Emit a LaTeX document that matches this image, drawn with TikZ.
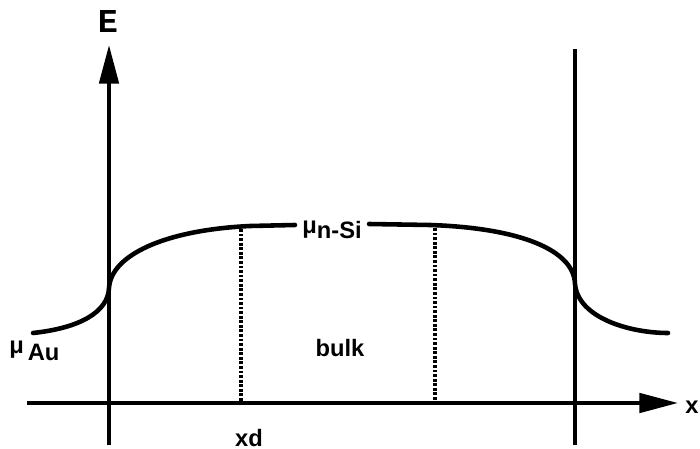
\documentclass[tikz,border=0pt]{standalone}
\usepackage{fontspec}
\setmainfont{Liberation Sans}
\newfontfamily\typefont{Liberation Mono}
\usepackage{tikz}
\usetikzlibrary{arrows.meta}
\newcommand{\lbl}{\fontsize{13.5}{16}\selectfont\bfseries}

\begin{document}
\begin{tikzpicture}[x=0.02cm,y=-0.02cm,
    >={Triangle[length=22pt,width=11pt]},
    axis/.style={line width=2.2pt},
    level/.style={line width=2.6pt,line cap=round},
    bound/.style={line width=2pt,dash pattern=on 1.6pt off 1pt}]
  \useasboundingbox (0,0) rectangle (700,449);
  % axes and the two interfaces
  \coordinate (eo) at (109,445);
  \coordinate (et) at (109,45);
  \coordinate (xo) at (27,403);
  \coordinate (xt) at (678,403);
  \coordinate (rb) at (575,445);
  \coordinate (rt) at (575,49);
  \draw[axis,->] (eo) -- (et);
  \draw[axis,->] (xo) -- (xt);
  \draw[axis] (rb) -- (rt);
  \node[font=\typefont\fontsize{19}{21}\selectfont\bfseries] (E) at (108,22) {E};
  \node[font=\lbl,inner sep=0pt] (x) at (692,407) {x};
  % chemical potential
  \node[font=\lbl,anchor=west,inner sep=0pt] (musi) at (302,230) {μ\raisebox{-0.4ex}{n-Si}};
  \node[font=\lbl,anchor=west,inner sep=0pt] (muau) at (9,351) {μ\,\raisebox{-0.6ex}{Au}};
  \draw[level] (33,333) .. controls (80,328) and (108,312) .. (109,288)
    .. controls (111,255) and (165,230) .. (250,226) -- ([xshift=-4pt]musi.west|-0,225);
  \draw[level] ([xshift=4pt]musi.east|-0,224) -- (430,225)
    .. controls (520,228) and (574,250) .. (575,284)
    .. controls (578,318) and (630,333) .. (668,333);
  % bulk region
  \coordinate (b1t) at (241,229);
  \coordinate (b1b) at (241,402);
  \coordinate (b2t) at (435,228);
  \coordinate (b2b) at (435,402);
  \draw[bound] (b1t) -- (b1b);
  \draw[bound] (b2t) -- (b2b);
  \node[font=\lbl] (bulk) at (340,348) {bulk};
  \node[font=\lbl] (xd) at (249,438) {xd};
\end{tikzpicture}
\end{document}
